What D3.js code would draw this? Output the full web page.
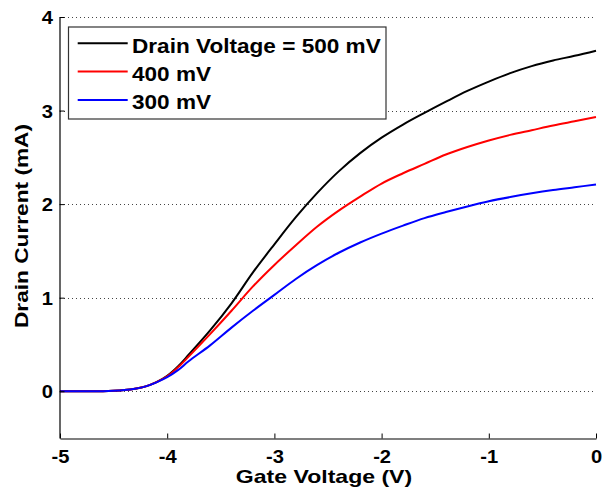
<!DOCTYPE html>
<html>
<head>
<meta charset="utf-8">
<script src="https://cdn.jsdelivr.net/npm/d3@7"></script>
<style>
  html, body { margin: 0; padding: 0; background: #fff; }
  svg { display: block; font-family: "Liberation Sans", Arial, sans-serif; }
</style>
</head>
<body>
<svg id="chart" width="603" height="497"></svg>
<script>
// Gate voltage sweep (V)
const gateVoltage = [-5, -4.6, -4.5, -4.4, -4.3, -4.2, -4.1, -4.0, -3.9, -3.8, -3.6, -3.4, -3.2, -3.0, -2.8, -2.6, -2.4, -2.2, -2.0, -1.8, -1.6, -1.4, -1.2, -1.0, -0.8, -0.6, -0.4, -0.2, 0];

// Drain current (mA) for each drain voltage
const current500 = [0, 0, 0.004, 0.012, 0.027, 0.052, 0.097, 0.165, 0.265, 0.39, 0.65, 0.94, 1.27, 1.57, 1.86, 2.12, 2.35, 2.545, 2.71, 2.85, 2.975, 3.095, 3.21, 3.31, 3.40, 3.475, 3.535, 3.585, 3.64];
const current400 = [0, 0, 0.004, 0.012, 0.027, 0.052, 0.097, 0.16, 0.255, 0.37, 0.61, 0.86, 1.12, 1.35, 1.56, 1.76, 1.93, 2.08, 2.22, 2.33, 2.43, 2.53, 2.61, 2.68, 2.74, 2.79, 2.84, 2.885, 2.93];
const current300 = [0, 0, 0.004, 0.012, 0.027, 0.052, 0.095, 0.15, 0.225, 0.32, 0.49, 0.68, 0.86, 1.03, 1.20, 1.35, 1.48, 1.59, 1.685, 1.77, 1.85, 1.915, 1.975, 2.03, 2.075, 2.115, 2.15, 2.18, 2.21];

const seriesNames = ["Drain Voltage = 500 mV", "400 mV", "300 mV"];
const seriesColors = ["#000000", "#ff0000", "#0000ff"];

const xTicks = [-5, -4, -3, -2, -1, 0];
const yTicks = [0, 1, 2, 3, 4];

const svg = d3.select("#chart");
const plotLeft = 60, plotRight = 596, plotTop = 17, plotBottom = 438;
const wide = 1.12;   // tick labels use a slightly widened bold sans

const x = d3.scaleLinear().domain([-5, 0]).range([plotLeft, plotRight]);
const y = d3.scaleLinear().domain([-0.5, 4]).range([plotBottom, plotTop]);

// Dotted horizontal grid
svg.append("g")
  .selectAll("line")
  .data(yTicks)
  .join("line")
  .attr("x1", plotLeft).attr("x2", plotRight)
  .attr("y1", d => Math.round(y(d)) + 0.5).attr("y2", d => Math.round(y(d)) + 0.5)
  .attr("stroke", "#444")
  .attr("stroke-width", 1)
  .attr("stroke-dasharray", "1,3");

// Curves
const series = [current500, current400, current300];
const line = d3.line()
  .x((d, i) => x(gateVoltage[i]))
  .y(d => y(d))
  .curve(d3.curveCatmullRom.alpha(0.5));

svg.append("g")
  .selectAll("path")
  .data(series)
  .join("path")
  .attr("d", d => line(d))
  .attr("fill", "none")
  .attr("stroke", (d, i) => seriesColors[i])
  .attr("stroke-width", 2);

// Axes (ticks point inward)
const fmt = d => String(d);
const xAxis = d3.axisBottom(x).tickValues(xTicks).tickSizeInner(-5).tickSizeOuter(0).tickFormat(fmt);
const yAxis = d3.axisLeft(y).tickValues(yTicks).tickSizeInner(-5).tickSizeOuter(0).tickFormat(fmt);

const gx = svg.append("g").attr("transform", `translate(0,${plotBottom + 0.5})`).call(xAxis);
const gy = svg.append("g").attr("transform", `translate(${plotLeft - 0.5},0)`).call(yAxis);

[gx, gy].forEach(g => {
  g.select(".domain").attr("stroke", "#000").attr("stroke-width", 1.2);
  g.selectAll(".tick line").attr("stroke", "#000");
  g.selectAll(".tick text")
    .attr("fill", "#000")
    .style("font-size", "18px")
    .style("font-weight", "bold")
    .style("font-family", "'Liberation Sans', Arial, sans-serif");
});
gx.selectAll(".tick text")
  .attr("y", 25).attr("dy", null)
  .attr("transform", `scale(${wide},1)`);
gy.selectAll(".tick text")
  .attr("x", -6.5 / wide)
  .attr("dy", "0.36em")
  .attr("transform", `scale(${wide},1)`);

// Axis titles
svg.append("text")
  .attr("transform", `translate(324,483) scale(1.24,1)`)
  .attr("text-anchor", "middle")
  .style("font-size", "18.6px").style("font-weight", "bold")
  .text("Gate Voltage (V)");

svg.append("text")
  .attr("transform", `translate(27.5,226) rotate(-90) scale(1.22,1)`)
  .attr("text-anchor", "middle")
  .style("font-size", "18.6px").style("font-weight", "bold")
  .text("Drain Current (mA)");

// Legend
const legend = svg.append("g");
legend.append("rect")
  .attr("x", 68.5).attr("y", 27).attr("width", 317.5).attr("height", 92)
  .attr("fill", "#fff").attr("stroke", "#333").attr("stroke-width", 1.2);

const rows = legend.selectAll("g.row")
  .data(seriesNames)
  .join("g")
  .attr("class", "row")
  .attr("transform", (d, i) => `translate(0,${43.3 + i * 28.3})`);

rows.append("line")
  .attr("x1", 77.7).attr("x2", 127.7)
  .attr("stroke", (d, i) => seriesColors[i])
  .attr("stroke-width", 2);

rows.append("text")
  .attr("transform", "translate(132,9.4) scale(1.13,1)")
  .style("font-size", "20px").style("font-weight", "bold")
  .text(d => d);
</script>
</body>
</html>
